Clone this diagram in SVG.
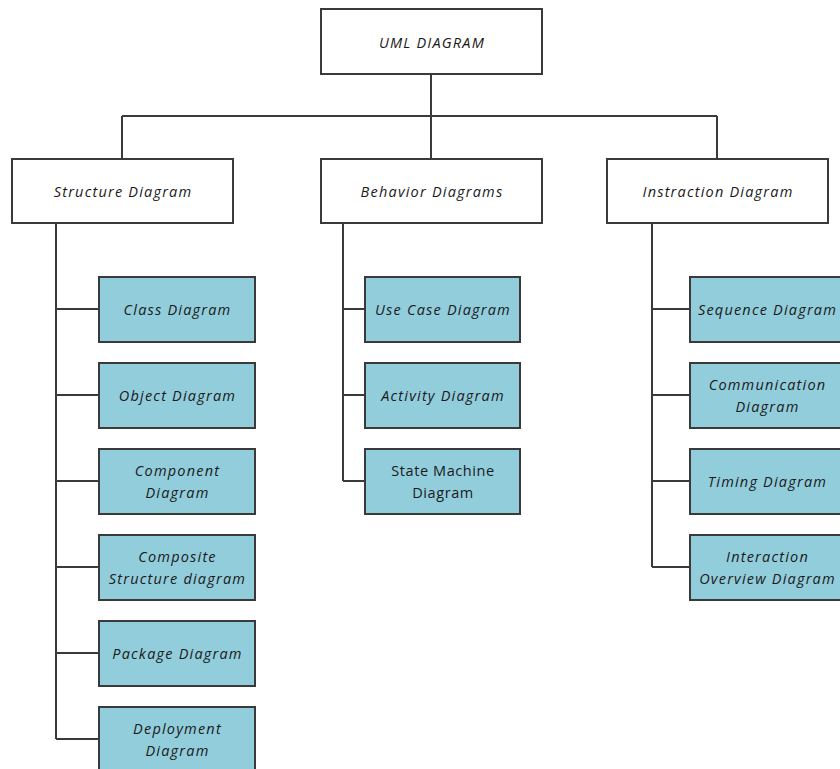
<svg xmlns="http://www.w3.org/2000/svg" width="840" height="769" viewBox="0 0 840 769">
<style>
.w{fill:#ffffff;stroke:#3a3a3a;stroke-width:2}
.c{fill:#92cddc;stroke:#3a3a3a;stroke-width:2}
text{font-family:"Open Sans","Liberation Sans",sans-serif;font-size:14.5px;letter-spacing:1.2px;font-style:italic;fill:#1a1a1a;text-anchor:middle;dominant-baseline:central}
.n{font-style:normal;letter-spacing:0.6px}
.l{fill:none;stroke:#3a3a3a;stroke-width:2}
</style>
<rect width="840" height="769" fill="#ffffff"/>
<g id="connectors" class="l">
<path d="M431,74V116M122,116H717M122,116V159M431,116V159M717,116V159"/>
<path d="M56,223V739M56,309H99M56,395H99M56,481H99M56,567H99M56,653H99M56,739H99"/>
<path d="M343,223V481M343,309H365M343,395H365M343,481H365"/>
<path d="M652,223V567M652,309H690M652,395H690M652,481H690M652,567H690"/>
</g>
<g id="uml"><rect class="w" x="321" y="9" width="221" height="65"/><text x="432" y="42">UML DIAGRAM</text></g>
<g id="structure"><rect class="w" x="12" y="159" width="221" height="64"/><text x="123" y="191">Structure Diagram</text></g>
<g id="behavior"><rect class="w" x="321" y="159" width="221" height="64"/><text x="432" y="191">Behavior Diagrams</text></g>
<g id="interaction"><rect class="w" x="607" y="159" width="221" height="64"/><text x="718" y="191">Instraction Diagram</text></g>
<g id="class"><rect class="c" x="99" y="277" width="156" height="65"/><text x="177.5" y="309.5">Class Diagram</text></g>
<g id="object"><rect class="c" x="99" y="363" width="156" height="65"/><text x="177.5" y="395.5">Object Diagram</text></g>
<g id="component"><rect class="c" x="99" y="449" width="156" height="65"/><text x="177.5" y="470">Component</text><text x="177.5" y="492">Diagram</text></g>
<g id="composite"><rect class="c" x="99" y="535" width="156" height="65"/><text x="177.5" y="556">Composite</text><text x="177.5" y="578">Structure diagram</text></g>
<g id="package"><rect class="c" x="99" y="621" width="156" height="65"/><text x="177.5" y="653.5">Package Diagram</text></g>
<g id="deployment"><rect class="c" x="99" y="707" width="156" height="70"/><text x="177.5" y="728">Deployment</text><text x="177.5" y="750">Diagram</text></g>
<g id="usecase"><rect class="c" x="365" y="277" width="155" height="65"/><text x="443" y="309.5">Use Case Diagram</text></g>
<g id="activity"><rect class="c" x="365" y="363" width="155" height="65"/><text x="443" y="395.5">Activity Diagram</text></g>
<g id="statemachine"><rect class="c" x="365" y="449" width="155" height="65"/><text class="n" x="443" y="470">State Machine</text><text class="n" x="443" y="492">Diagram</text></g>
<g id="sequence"><rect class="c" x="690" y="277" width="160" height="65"/><text x="767.5" y="309.5">Sequence Diagram</text></g>
<g id="communication"><rect class="c" x="690" y="363" width="160" height="65"/><text x="767.5" y="384">Communication</text><text x="767.5" y="406">Diagram</text></g>
<g id="timing"><rect class="c" x="690" y="449" width="160" height="65"/><text x="767.5" y="481.5">Timing Diagram</text></g>
<g id="overview"><rect class="c" x="690" y="535" width="160" height="65"/><text x="767.5" y="556">Interaction</text><text x="767.5" y="578">Overview Diagram</text></g>
</svg>
